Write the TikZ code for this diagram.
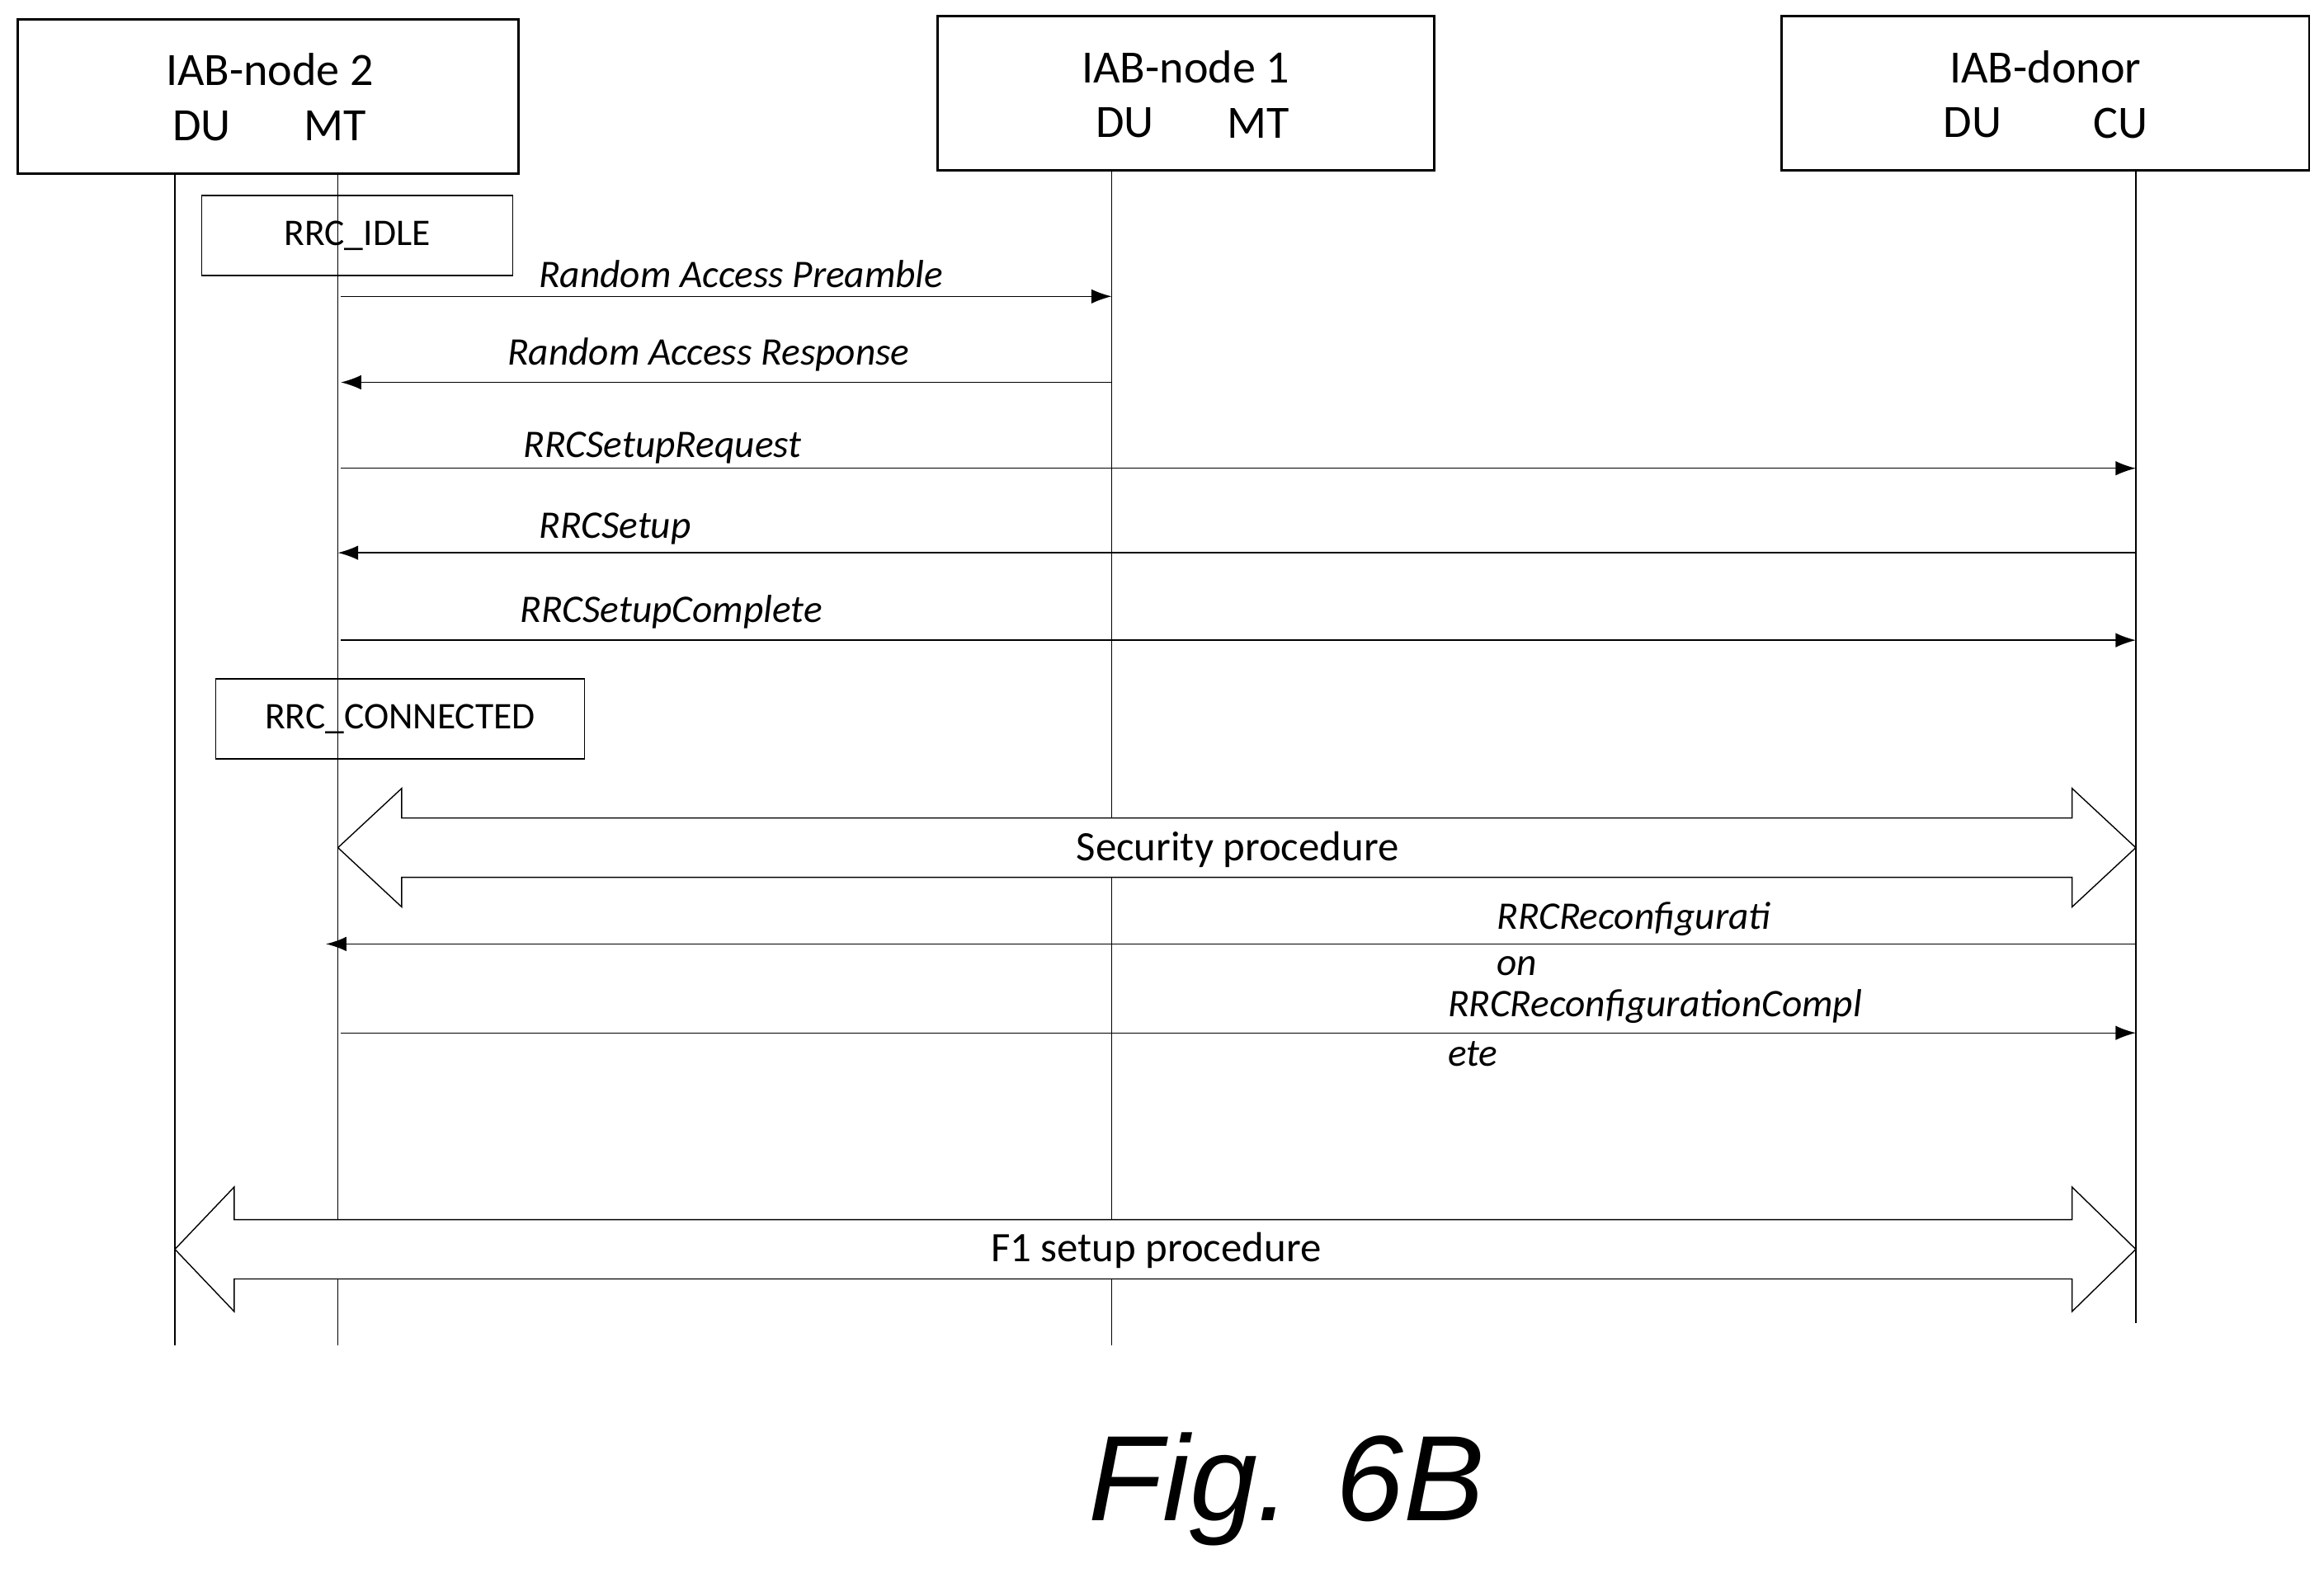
\documentclass[tikz,border=0pt]{standalone}
\usepackage{fontspec}
\setmainfont{Carlito}
\newfontfamily\figfont{Liberation Sans}
\usetikzlibrary{arrows.meta}
\begin{document}
\begin{tikzpicture}[x=0.018cm, y=-0.018cm,
    entity/.style={draw, thick, minimum width=#1*0.018cm, minimum height=104*0.018cm, inner sep=0pt},
    state/.style={draw, minimum height=54*0.018cm, font=\fontsize{13}{15}\selectfont},
    msg/.style={-{Latex[length=7pt, width=5pt]}, thin},
    lbl/.style={font=\fontsize{13.5}{16}\selectfont\itshape},
    life/.style={thin},
    big/.style={draw, thin, fill=white}]

    \useasboundingbox (0,0) rectangle (1568,1061);

    % ------------------ Entities ------------------
    \node[entity=338] (iab2) at (181,65) {};
    \node[font=\fontsize{16}{18}\selectfont] (iab2t) at (182,47) {IAB-node 2};
    \node[font=\fontsize{16}{18}\selectfont] (iab2du) at (136,85) {DU};
    \node[font=\fontsize{16}{18}\selectfont] (iab2mt) at (226,85) {MT};

    \node[entity=335] (iab1) at (800,63) {};
    \node[font=\fontsize{16}{18}\selectfont] (iab1t) at (800,45) {IAB-node 1};
    \node[font=\fontsize{16}{18}\selectfont] (iab1du) at (759,83) {DU};
    \node[font=\fontsize{16}{18}\selectfont] (iab1mt) at (849,83) {MT};

    \node[entity=356] (donor) at (1380,63) {};
    \node[font=\fontsize{16}{18}\selectfont] (donort) at (1380,45) {IAB-donor};
    \node[font=\fontsize{16}{18}\selectfont] (donordu) at (1331,83) {DU};
    \node[font=\fontsize{16}{18}\selectfont] (donorcu) at (1431,83) {CU};

    % Lifelines
    \coordinate (du2top) at (118,118);  \coordinate (du2bot) at (118,908);
    \coordinate (mt2top) at (228,118);  \coordinate (mt2bot) at (228,908);
    \coordinate (n1top) at (750,115);   \coordinate (n1bot) at (750,908);
    \coordinate (cutop) at (1441,115);  \coordinate (cubot) at (1441,893);
    \draw[life] (du2top) -- (du2bot);
    \draw[life] (mt2top) -- (mt2bot);
    \draw[life] (n1top) -- (n1bot);
    \draw[life] (cutop) -- (cubot);

    % ------------------ States ------------------
    \node[state, minimum width=210*0.018cm] (idle) at (241,159) {RRC\_IDLE};
    \node[state, minimum width=249*0.018cm] (conn) at (270,485) {RRC\_CONNECTED};

    % ------------------ Messages ------------------
    \coordinate (m1a) at (230,200);  \coordinate (m1b) at (750,200);
    \coordinate (m2a) at (750,258);  \coordinate (m2b) at (230,258);
    \coordinate (m3a) at (230,316);  \coordinate (m3b) at (1441,316);
    \coordinate (m4a) at (1441,373); \coordinate (m4b) at (228,373);
    \coordinate (m5a) at (230,432);  \coordinate (m5b) at (1441,432);
    \coordinate (m6a) at (1441,637); \coordinate (m6b) at (220,637);
    \coordinate (m7a) at (230,697);  \coordinate (m7b) at (1441,697);

    \draw[msg] (m1a) -- (m1b);
    \draw[msg] (m2a) -- (m2b);
    \draw[msg] (m3a) -- (m3b);
    \draw[msg] (m4a) -- (m4b);
    \draw[msg] (m5a) -- (m5b);
    \draw[msg] (m6a) -- (m6b);
    \draw[msg] (m7a) -- (m7b);

    \node[lbl] (l1) at (500,185) {Random Access Preamble};
    \node[lbl] (l2) at (478,239) {Random Access Response};
    \node[lbl] (l3) at (447,302) {RRCSetupRequest};
    \node[lbl] (l4) at (415,357) {RRCSetup};
    \node[lbl] (l5) at (453,413) {RRCSetupComplete};
    \node[lbl, anchor=west] (l6a) at (1003,620) {RRCReconfigurati};
    \node[lbl, anchor=west] (l6b) at (1003,652) {on};
    \node[lbl, anchor=west] (l7a) at (970,679) {RRCReconfigurationCompl};
    \node[lbl, anchor=west] (l7b) at (970,711) {ete};

    % ------------------ Procedures ------------------
    \draw[big] (228,572) -- (271,532) -- (271,552) -- (1398,552) -- (1398,532)
        -- (1441,572) -- (1398,612) -- (1398,592) -- (271,592) -- (271,612) -- cycle;
    \node[font=\fontsize{14.5}{17}\selectfont] (sec) at (835,573) {Security procedure};

    \draw[big] (118,843) -- (158,801) -- (158,823) -- (1398,823) -- (1398,801)
        -- (1441,843) -- (1398,885) -- (1398,863) -- (158,863) -- (158,885) -- cycle;
    \node[font=\fontsize{14.5}{17}\selectfont] (f1) at (780,844) {F1 setup procedure};

    \node[font=\figfont\itshape\fontsize{42}{46}\selectfont] (fig) at (868,1005) {Fig. 6B};
\end{tikzpicture}
\end{document}
